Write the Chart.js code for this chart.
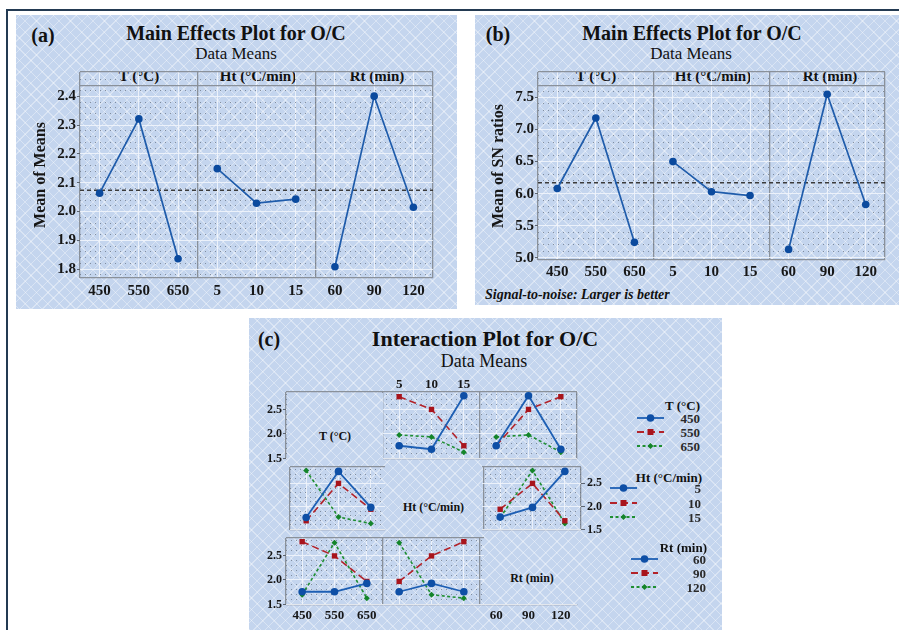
<!DOCTYPE html>
<html><head><meta charset="utf-8">
<script src="https://cdn.jsdelivr.net/npm/chart.js@4.4.1/dist/chart.umd.min.js"></script>
<style>
html,body{margin:0;padding:0;background:#fff;width:899px;height:630px;overflow:hidden;position:relative;font-family:"Liberation Serif","Times New Roman",serif;color:#111;}
.pat{position:absolute;background-color:#c4d5ee;
background-image:repeating-linear-gradient(45deg,rgba(255,255,255,.36) 0,rgba(255,255,255,.36) 1px,transparent 1px,transparent 8px),repeating-linear-gradient(-45deg,rgba(255,255,255,.36) 0,rgba(255,255,255,.36) 1px,transparent 1px,transparent 8px);
background-attachment:fixed;}
.t{position:absolute;white-space:nowrap;transform:translate(-50%,-50%);line-height:1;}
.r{position:absolute;white-space:nowrap;transform:translate(-100%,-50%);line-height:1;font-weight:bold;font-size:13px;}
.l{position:absolute;white-space:nowrap;transform:translate(0,-50%);line-height:1;}
.b{font-weight:bold;}
canvas{position:absolute;}
svg{position:absolute;overflow:visible;}
</style></head><body>
<div style="position:absolute;left:6px;top:9px;width:893px;height:2px;background:#233a52"></div>
<div style="position:absolute;left:6px;top:9px;width:2px;height:621px;background:#233a52"></div>

<div class="pat" style="left:16px;top:15px;width:441px;height:294px"></div>
<div class="pat" style="left:475px;top:15px;width:424px;height:290px"></div>
<div class="pat" style="left:249px;top:318px;width:473px;height:312px"></div>

<div class="t b" style="left:43px;top:35px;font-size:20px">(a)</div>
<div class="t b" style="left:236px;top:33px;font-size:20px">Main Effects Plot for O/C</div>
<div class="t" style="left:236px;top:53px;font-size:17px">Data Means</div>
<div class="t b" style="left:139px;top:76px;font-size:15px">T (°C)</div>
<div class="t b" style="left:258px;top:76px;font-size:15px">Ht (°C/min)</div>
<div class="t b" style="left:377px;top:76px;font-size:15px">Rt (min)</div>

<div class="t b" style="left:498px;top:34px;font-size:20px">(b)</div>
<div class="t b" style="left:692px;top:33px;font-size:20px">Main Effects Plot for O/C</div>
<div class="t" style="left:691px;top:53px;font-size:17px">Data Means</div>
<div class="t b" style="left:596px;top:76px;font-size:15px">T (°C)</div>
<div class="t b" style="left:713px;top:76px;font-size:15px">Ht (°C/min)</div>
<div class="t b" style="left:830px;top:76px;font-size:15px">Rt (min)</div>
<div class="l b" style="left:485px;top:295px;font-size:14px;font-style:italic">Signal-to-noise: Larger is better</div>

<div class="t b" style="left:269px;top:339px;font-size:20px">(c)</div>
<div class="t b" style="left:485px;top:339px;font-size:22px">Interaction Plot for O/C</div>
<div class="t" style="left:484px;top:361px;font-size:18px">Data Means</div>

<script>
// ================= DATA =================
const tempLevels = ['450', '550', '650'];
const htLevels = ['5', '10', '15'];
const rtLevels = ['60', '90', '120'];
const factorNames = ['T (°C)', 'Ht (°C/min)', 'Rt (min)'];

// (a) Main effects – data means
const meansT = [2.064, 2.322, 1.836];
const meansHt = [2.149, 2.029, 2.043];
const meansRt = [1.808, 2.401, 2.015];
const meansGrand = 2.074;
const meansYTicks = [1.8, 1.9, 2.0, 2.1, 2.2, 2.3, 2.4];

// (b) Main effects – SN ratios
const snT = [6.08, 7.18, 5.24];
const snHt = [6.50, 6.03, 5.97];
const snRt = [5.13, 7.55, 5.83];
const snGrand = 6.17;
const snYTicks = [5.0, 5.5, 6.0, 6.5, 7.0, 7.5];

// (c) Interaction plot (series = legend factor levels, x = other factor levels)
const intYTicks = [1.5, 2.0, 2.5];
const byT_xHt = [[1.76, 1.69, 2.78], [2.76, 2.50, 1.76], [1.98, 1.94, 1.63]];
const byT_xRt = [[1.76, 2.78, 1.69], [1.76, 2.50, 2.76], [1.94, 1.98, 1.63]];
const byHt_xT = [[1.76, 2.76, 1.98], [1.69, 2.50, 1.94], [2.78, 1.77, 1.63]];
const byHt_xRt = [[1.77, 1.98, 2.76], [1.94, 2.50, 1.69], [1.76, 2.78, 1.63]];
const byRt_xT = [[1.76, 1.76, 1.93], [2.78, 2.49, 1.97], [1.70, 2.76, 1.63]];
const byRt_xHt = [[1.76, 1.93, 1.76], [1.97, 2.49, 2.78], [2.76, 1.70, 1.63]];

// ================= STYLE / HELPERS =================
Chart.defaults.font.family = '"Liberation Serif","Times New Roman",serif';
Chart.defaults.color = '#161616';
const FRAME = '#8a919a', MAJOR = 'rgba(242,246,252,0.85)', MINOR = 'rgba(105,116,132,0.75)';
const kindOf = c => (c && c.tick) ? c.tick.kind : null;
const gridOpts = {
  color: c => { const k = kindOf(c); return (k === 'edge' || k === 'div') ? FRAME : k === 'major' ? MAJOR : k === 'minor' ? MINOR : 'transparent'; },
  lineWidth: c => { const k = kindOf(c); return (k === 'edge' || k === 'div') ? 1.3 : 1; },
  tickColor: c => (kindOf(c) === 'major' && c.scale && c.scale.axis === 'y') ? '#5d6570' : 'transparent',
  tickWidth: 1
};
const borderOpts = { display: false, dash: c => kindOf(c) === 'minor' ? [1, 4] : [] };
const labelCb = (v, i, t) => (t[i] && t[i].text) ? t[i].text : '';

function yTicksFrom(min, max, majors, step, header) {
  const out = [{value: min, kind: 'edge'}, {value: max, kind: 'edge'}];
  if (header !== null) out.push({value: header, kind: 'edge'});
  majors.forEach(v => out.push({value: v, kind: 'major', text: v.toFixed(1)}));
  for (let k = Math.ceil(min / step); k * step < max; k++) {
    const v = +(k * step).toFixed(6);
    if (v - min < 0.3 * step || max - v < 0.3 * step) continue;
    if (header !== null && Math.abs(v - header) < 0.3 * step) continue;
    if (majors.some(m => Math.abs(m - v) < 1e-6)) continue;
    out.push({value: v, kind: 'minor'});
  }
  return out.sort((a, b) => a.value - b.value);
}
function xTicksFrom(cols) {
  const out = [{value: 0, kind: 'edge'}, {value: 9, kind: 'edge'}, {value: 3, kind: 'div'}, {value: 6, kind: 'div'}];
  cols.forEach((c, g) => c.labels.forEach((lab, i) =>
    out.push({value: g * 3 + i + 0.5, kind: c.grid ? 'major' : 'none', text: c.show ? lab : ''})));
  return out.sort((a, b) => a.value - b.value);
}
function yScale(o) {
  return {
    type: 'linear', position: o.pos || 'left', min: o.min, max: o.max,
    afterBuildTicks: s => { s.ticks = o.ticks.map(t => Object.assign({}, t)); },
    afterFit: s => { s.width = o.w; s.paddingTop = 0; s.paddingBottom = 0; s.paddingLeft = 0; s.paddingRight = 0; },
    ticks: {autoSkip: false, padding: o.pad, font: {size: o.fs, weight: 'bold'}, color: '#161616', callback: labelCb},
    grid: Object.assign({}, gridOpts, {drawTicks: true, tickLength: o.tl}),
    border: borderOpts,
    title: o.title ? {display: true, text: o.title, font: {size: 16, weight: 'bold'}, color: '#161616', padding: {top: 4, bottom: 0}} : {display: false}
  };
}
function xScale(o) {
  return {
    type: 'linear', position: o.pos || 'bottom', min: 0, max: 9,
    afterBuildTicks: s => { s.ticks = o.ticks.map(t => Object.assign({}, t)); },
    afterFit: s => { s.height = o.h; s.paddingLeft = 0; s.paddingRight = 0; s.paddingTop = 0; s.paddingBottom = 0; },
    ticks: {display: o.show !== false, autoSkip: false, maxRotation: 0, minRotation: 0, padding: o.pad || 0,
      font: {size: o.fs || 13, weight: 'bold'}, color: '#161616', callback: labelCb},
    grid: Object.assign({}, gridOpts, {drawTicks: false}),
    border: borderOpts
  };
}
function seg(values, col, style) {
  return Object.assign({data: values.map((v, i) => ({x: col * 3 + i + 0.5, y: v})), tension: 0, clip: 6}, style);
}
function makeChart(left, top, w, h, datasets, scales) {
  const c = document.createElement('canvas');
  c.width = w; c.height = h;
  c.style.left = left + 'px'; c.style.top = top + 'px';
  c.style.width = w + 'px'; c.style.height = h + 'px';
  document.body.appendChild(c);
  return new Chart(c, {
    type: 'line', data: {datasets},
    options: {responsive: false, animation: false, events: [], layout: {padding: 0},
      plugins: {legend: {display: false}, tooltip: {enabled: false}}, scales}
  });
}

// ================= (a) and (b) main effects =================
const meStyle = {borderColor: '#1f5cab', borderWidth: 1.7, pointRadius: 3.8, pointBackgroundColor: '#0b4a9e', pointBorderColor: '#0b4a9e', pointBorderWidth: 0};
const refStyle = {borderColor: '#3b3b3b', borderWidth: 1.4, borderDash: [4, 3], pointRadius: 0};
const meX = xTicksFrom([{labels: tempLevels, grid: true, show: true}, {labels: htLevels, grid: true, show: true}, {labels: rtLevels, grid: true, show: true}]);

// (a): chart area x 80..437, y 68..278
makeChart(27, 68, 410, 235, [
  seg(meansT, 0, meStyle), seg(meansHt, 1, meStyle), seg(meansRt, 2, meStyle),
  Object.assign({data: [{x: 0, y: meansGrand}, {x: 9, y: meansGrand}]}, refStyle)
], {
  x: xScale({ticks: meX, h: 25, pad: 4, fs: 15}),
  y: yScale({min: 1.769, max: 2.485, ticks: yTicksFrom(1.769, 2.485, meansYTicks, 0.02, 2.4386), w: 53, pad: 1, tl: 3, fs: 15, title: 'Mean of Means'})
});

// (b): chart area x 538..889, y 68..260
makeChart(485, 68, 404, 216, [
  seg(snT, 0, meStyle), seg(snHt, 1, meStyle), seg(snRt, 2, meStyle),
  Object.assign({data: [{x: 0, y: snGrand}, {x: 9, y: snGrand}]}, refStyle)
], {
  x: xScale({ticks: meX, h: 24, pad: 3, fs: 15}),
  y: yScale({min: 4.965, max: 7.897, ticks: yTicksFrom(4.965, 7.897, snYTicks, 0.1, 7.688), w: 53, pad: 1, tl: 3, fs: 15, title: 'Mean of SN ratios'})
});

// ================= (c) interaction =================
const sStyles = [
  {borderColor: '#1d5fb4', borderWidth: 1.8, pointRadius: 3.8, pointStyle: 'circle', pointBackgroundColor: '#0e4fa6', pointBorderColor: '#0e4fa6', pointBorderWidth: 0},
  {borderColor: '#b3232a', borderWidth: 1.6, borderDash: [7, 4], pointRadius: 3.8, pointStyle: 'rect', pointBackgroundColor: '#a8141c', pointBorderColor: '#a8141c', pointBorderWidth: 0},
  {borderColor: '#1f8f32', borderWidth: 1.6, borderDash: [3, 2.5], pointRadius: 3, pointStyle: 'rectRot', pointBackgroundColor: '#14842a', pointBorderColor: '#14842a', pointBorderWidth: 0}
];
const IMIN = 1.49, IMAX = 2.855;
const iy = o => yScale(Object.assign({min: IMIN, max: IMAX, ticks: yTicksFrom(IMIN, IMAX, intYTicks, 0.1, null), fs: 12}, o));
function rowSets(a, colA, b, colB) {
  const d = [];
  for (let s = 0; s < 3; s++) { d.push(seg(a[s], colA, sStyles[s])); d.push(seg(b[s], colB, sStyles[s])); }
  return d;
}
// row 1: series by T ; area x 286..581, y 392..463
makeChart(256, 376, 325, 87, rowSets(byT_xHt, 1, byT_xRt, 2), {
  x: xScale({pos: 'top', h: 16, pad: 0, fs: 13, ticks: xTicksFrom([{labels: tempLevels, grid: false, show: false}, {labels: htLevels, grid: true, show: true}, {labels: rtLevels, grid: true, show: false}])}),
  y: iy({w: 30, pad: 1, tl: 3})
});
// row 2: series by Ht ; area y 463..534
makeChart(286, 463, 325, 71, rowSets(byHt_xT, 0, byHt_xRt, 2), {
  x: xScale({h: 0, show: false, ticks: xTicksFrom([{labels: tempLevels, grid: true, show: false}, {labels: htLevels, grid: false, show: false}, {labels: rtLevels, grid: true, show: false}])}),
  y: iy({pos: 'right', w: 30, pad: 2, tl: 4})
});
// row 3: series by Rt ; area y 534..605
makeChart(256, 534, 325, 93, rowSets(byRt_xT, 0, byRt_xHt, 1), {
  x: xScale({h: 22, pad: 3, fs: 13, ticks: xTicksFrom([{labels: tempLevels, grid: true, show: true}, {labels: htLevels, grid: true, show: false}, {labels: rtLevels, grid: false, show: true}])}),
  y: iy({w: 30, pad: 1, tl: 3})
});

// diagonal cells (factor names)
[[287, 393, 96, 69, factorNames[0]], [385, 464, 97, 69, factorNames[1]], [484, 535, 96, 69, factorNames[2]]].forEach(d => {
  const el = document.createElement('div');
  el.className = 'pat';
  el.style.cssText += `left:${d[0]}px;top:${d[1]}px;width:${d[2]}px;height:${d[3]}px;`;
  const tx = document.createElement('div');
  tx.className = 't b'; tx.style.cssText = `left:${d[2] / 2}px;top:43px;font-size:12px;`;
  tx.textContent = d[4];
  el.appendChild(tx);
  document.body.appendChild(el);
});

// legends
function swatch(x, y, s) {
  const st = sStyles[s];
  const ns = 'http://www.w3.org/2000/svg';
  const svg = document.createElementNS(ns, 'svg');
  svg.setAttribute('width', 27); svg.setAttribute('height', 10);
  svg.style.left = x + 'px'; svg.style.top = (y - 5) + 'px';
  const ln = document.createElementNS(ns, 'line');
  ln.setAttribute('x1', 0); ln.setAttribute('x2', 27); ln.setAttribute('y1', 5); ln.setAttribute('y2', 5);
  ln.setAttribute('stroke', st.borderColor); ln.setAttribute('stroke-width', 1.8);
  if (st.borderDash) ln.setAttribute('stroke-dasharray', st.borderDash.join(','));
  svg.appendChild(ln);
  let mk;
  if (s === 0) { mk = document.createElementNS(ns, 'circle'); mk.setAttribute('cx', 13.5); mk.setAttribute('cy', 5); mk.setAttribute('r', 3.8); }
  else if (s === 1) { mk = document.createElementNS(ns, 'rect'); mk.setAttribute('x', 10.5); mk.setAttribute('y', 2); mk.setAttribute('width', 6); mk.setAttribute('height', 6); }
  else { mk = document.createElementNS(ns, 'polygon'); mk.setAttribute('points', '13.5,2 16.5,5 13.5,8 10.5,5'); }
  mk.setAttribute('fill', st.pointBackgroundColor);
  svg.appendChild(mk);
  document.body.appendChild(svg);
}
function legend(title, levels, titleRight, titleY, swX, rowsY, labRight) {
  const t = document.createElement('div');
  t.className = 'r'; t.style.left = titleRight + 'px'; t.style.top = titleY + 'px'; t.textContent = title;
  document.body.appendChild(t);
  levels.forEach((lab, i) => {
    swatch(swX, rowsY[i], i);
    const d = document.createElement('div');
    d.className = 'r'; d.style.left = labRight + 'px'; d.style.top = rowsY[i] + 'px'; d.style.color = '#2a2a2a';
    d.textContent = lab;
    document.body.appendChild(d);
  });
}
legend(factorNames[0], tempLevels, 700, 405, 637, [418, 432, 446], 700);
legend(factorNames[1], htLevels, 702, 477, 610, [488, 503, 517], 701);
legend(factorNames[2], rtLevels, 707, 547, 631, [559, 573, 587], 706);
</script>
</body></html>
